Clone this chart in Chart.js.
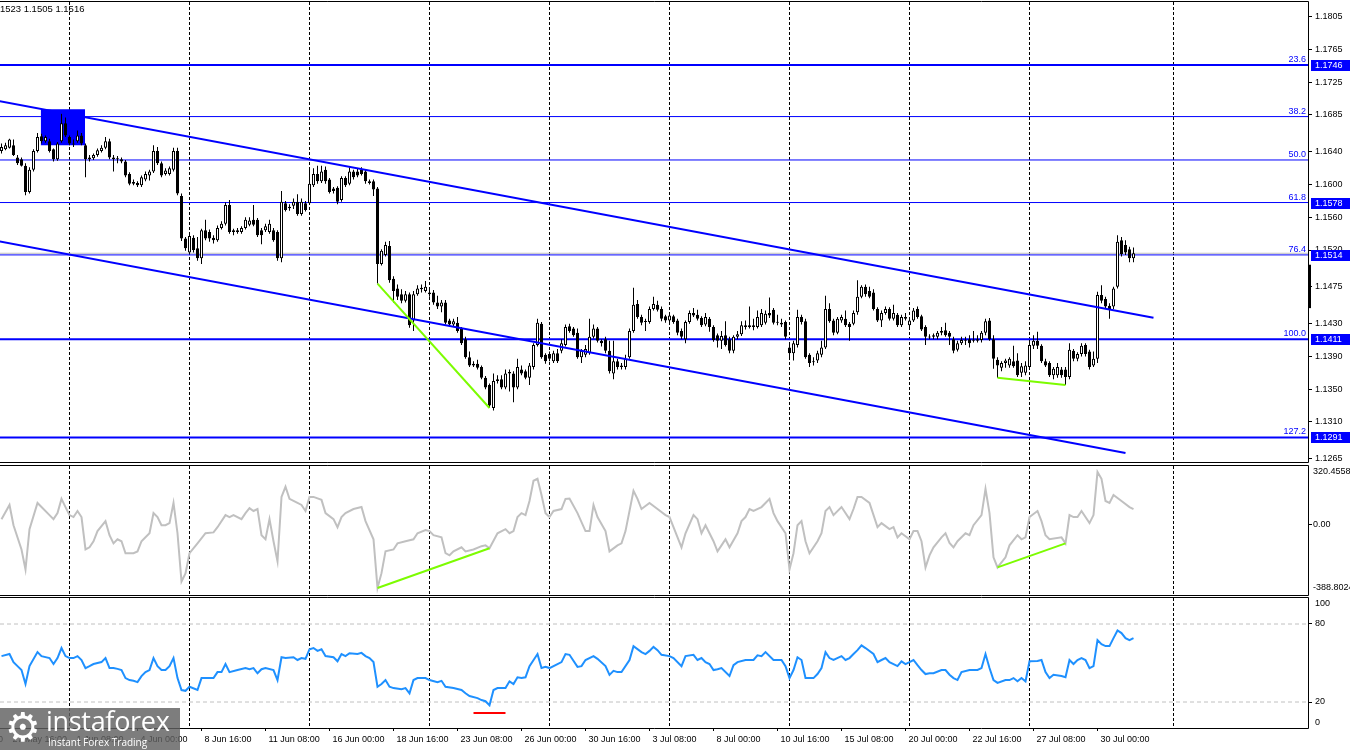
<!DOCTYPE html>
<html>
<head>
<meta charset="utf-8">
<script src="https://cdn.jsdelivr.net/npm/chart.js@4.4.1/dist/chart.umd.min.js"></script>
<style>
html,body{margin:0;padding:0;background:#fff;}
body{width:1350px;height:750px;position:relative;overflow:hidden;font-family:"Liberation Sans",Arial,sans-serif;}
canvas{position:absolute;left:0;}
#hdr{position:absolute;top:3px;left:-8px;font-size:9.5px;line-height:11px;white-space:nowrap;color:#000;}
#logo{position:absolute;left:0;top:708px;width:180px;height:42px;background:rgba(96,96,96,0.82);color:#fff;overflow:hidden;}
#logo .gear{position:absolute;left:5px;top:-3px;font-family:"DejaVu Sans";font-size:40px;line-height:44px;}
#logo .brand{position:absolute;left:46px;top:-3px;font-family:"Open Sans";font-size:27px;line-height:32px;letter-spacing:-0.3px;}
#logo .tag{position:absolute;left:48px;top:28px;font-family:"Open Sans";font-size:10px;line-height:12px;}
</style>
</head>
<body>
<canvas id="cMain" width="1350" height="464" style="top:0"></canvas>
<canvas id="cCci" width="1350" height="132" style="top:464px"></canvas>
<canvas id="cRsi" width="1350" height="154" style="top:596px"></canvas>
<div id="hdr">1.1523 1.1505 1.1516</div>
<div id="logo"><span class="gear">⚙</span><span class="brand">instaforex</span><span class="tag">Instant Forex Trading</span></div>
<script>
// ---------------- DATA ----------------
// H4 candles, bar index = position in the arrays
const opens = [
1.1641,1.1643,1.1645,1.1648,1.1633,1.1631,1.1623,1.1591,1.1618,1.1641,
1.1659,1.1653,1.1653,1.1643,1.1631,1.1653,1.1675,1.1658,1.1650,1.1653,
1.1660,1.1648,1.1631,1.1632,1.1636,1.1641,1.1645,1.1653,1.1633,1.1631,
1.1631,1.1628,1.1613,1.1603,1.1602,1.1599,1.1606,1.1611,1.1616,1.1641,
1.1626,1.1613,1.1613,1.1618,1.1641,1.1586,1.1534,1.1517,1.1535,1.1522,
1.1510,1.1544,1.1542,1.1535,1.1532,1.1547,1.1552,1.1575,1.1544,1.1542,
1.1542,1.1547,1.1551,1.1557,1.1557,1.1544,1.1544,1.1542,1.1544,1.1542,
1.1510,1.1577,1.1573,1.1574,1.1579,1.1564,1.1577,1.1577,1.1599,1.1613,
1.1604,1.1618,1.1606,1.1595,1.1596,1.1581,1.1608,1.1601,1.1616,1.1616,
1.1618,1.1616,1.1604,1.1604,1.1595,1.1503,1.1514,1.1525,1.1485,1.1473,
1.1466,1.1458,1.1466,1.1434,1.1466,1.1472,1.1470,1.1468,1.1468,1.1456,
1.1451,1.1456,1.1434,1.1429,1.1431,1.1424,1.1411,1.1389,1.1381,1.1381,
1.1377,1.1364,1.1355,1.1327,1.1360,1.1362,1.1352,1.1369,1.1369,1.1352,
1.1374,1.1372,1.1364,1.1377,1.1404,1.1430,1.1392,1.1393,1.1384,1.1394,
1.1397,1.1404,1.1427,1.1424,1.1419,1.1389,1.1392,1.1394,1.1414,1.1424,
1.1409,1.1411,1.1397,1.1369,1.1384,1.1377,1.1377,1.1389,1.1421,1.1454,
1.1438,1.1432,1.1432,1.1448,1.1453,1.1448,1.1439,1.1434,1.1439,1.1434,
1.1421,1.1411,1.1432,1.1443,1.1441,1.1437,1.1429,1.1436,1.1426,1.1416,
1.1409,1.1416,1.1411,1.1397,1.1414,1.1417,1.1426,1.1428,1.1426,1.1426,
1.1428,1.1431,1.1443,1.1447,1.1432,1.1431,1.1432,1.1401,1.1394,1.1404,
1.1438,1.1433,1.1392,1.1384,1.1385,1.1392,1.1401,1.1448,1.1434,1.1419,
1.1434,1.1436,1.1430,1.1430,1.1444,1.1463,1.1475,1.1470,1.1468,1.1448,
1.1434,1.1443,1.1448,1.1436,1.1441,1.1428,1.1438,1.1428,1.1434,1.1448,
1.1439,1.1426,1.1414,1.1414,1.1414,1.1419,1.1422,1.1419,1.1411,1.1398,
1.1406,1.1410,1.1411,1.1409,1.1409,1.1410,1.1419,1.1434,1.1411,1.1386,
1.1376,1.1382,1.1379,1.1384,1.1385,1.1370,1.1370,1.1377,1.1403,1.1409,
1.1403,1.1384,1.1382,1.1367,1.1367,1.1374,1.1374,1.1365,1.1397,1.1387,
1.1393,1.1404,1.1396,1.1379,1.1387,1.1465,1.1460,1.1452,1.1451,1.1475,
1.1532,1.1526,1.1521,1.1510];
const highs = [
1.1650,1.1651,1.1656,1.1655,1.1636,1.1633,1.1626,1.1621,1.1643,1.1663,
1.1662,1.1660,1.1656,1.1644,1.1652,1.1687,1.1682,1.1660,1.1655,1.1666,
1.1663,1.1650,1.1636,1.1638,1.1644,1.1648,1.1658,1.1656,1.1636,1.1635,
1.1633,1.1630,1.1615,1.1606,1.1604,1.1611,1.1616,1.1618,1.1648,1.1646,
1.1628,1.1620,1.1622,1.1645,1.1645,1.1589,1.1536,1.1539,1.1538,1.1536,
1.1546,1.1557,1.1545,1.1538,1.1550,1.1555,1.1578,1.1581,1.1546,1.1547,
1.1549,1.1560,1.1560,1.1575,1.1559,1.1547,1.1552,1.1557,1.1547,1.1544,
1.1592,1.1580,1.1576,1.1583,1.1588,1.1583,1.1580,1.1618,1.1620,1.1623,
1.1623,1.1622,1.1608,1.1597,1.1598,1.1610,1.1610,1.1621,1.1618,1.1620,
1.1621,1.1618,1.1606,1.1606,1.1597,1.1521,1.1530,1.1531,1.1488,1.1478,
1.1472,1.1470,1.1468,1.1470,1.1477,1.1478,1.1482,1.1473,1.1471,1.1464,
1.1459,1.1459,1.1436,1.1436,1.1438,1.1426,1.1414,1.1396,1.1384,1.1386,
1.1379,1.1366,1.1357,1.1369,1.1367,1.1367,1.1374,1.1374,1.1372,1.1387,
1.1379,1.1374,1.1382,1.1406,1.1436,1.1432,1.1394,1.1396,1.1397,1.1399,
1.1411,1.1429,1.1430,1.1426,1.1424,1.1399,1.1404,1.1436,1.1429,1.1426,
1.1411,1.1414,1.1409,1.1409,1.1387,1.1382,1.1392,1.1424,1.1474,1.1459,
1.1441,1.1436,1.1451,1.1463,1.1458,1.1451,1.1441,1.1443,1.1441,1.1436,
1.1424,1.1434,1.1446,1.1449,1.1447,1.1439,1.1443,1.1438,1.1428,1.1418,
1.1421,1.1433,1.1414,1.1416,1.1421,1.1433,1.1434,1.1451,1.1436,1.1446,
1.1448,1.1446,1.1462,1.1449,1.1441,1.1436,1.1434,1.1404,1.1409,1.1447,
1.1441,1.1436,1.1394,1.1389,1.1397,1.1409,1.1464,1.1455,1.1436,1.1438,
1.1441,1.1446,1.1432,1.1446,1.1483,1.1477,1.1478,1.1475,1.1472,1.1450,
1.1446,1.1451,1.1450,1.1453,1.1443,1.1441,1.1443,1.1436,1.1449,1.1451,
1.1441,1.1428,1.1417,1.1418,1.1421,1.1426,1.1431,1.1421,1.1414,1.1409,
1.1414,1.1414,1.1416,1.1421,1.1416,1.1421,1.1436,1.1437,1.1416,1.1389,
1.1384,1.1387,1.1389,1.1403,1.1394,1.1382,1.1384,1.1410,1.1416,1.1420,
1.1405,1.1387,1.1384,1.1377,1.1382,1.1377,1.1377,1.1406,1.1399,1.1395,
1.1406,1.1406,1.1398,1.1396,1.1469,1.1477,1.1463,1.1455,1.1475,1.1538,
1.1536,1.1532,1.1524,1.1523];
const lows = [
1.1638,1.1642,1.1644,1.1635,1.1624,1.1622,1.1587,1.1589,1.1616,1.1639,
1.1650,1.1651,1.1639,1.1628,1.1629,1.1651,1.1658,1.1648,1.1646,1.1651,
1.1648,1.1609,1.1628,1.1630,1.1634,1.1639,1.1643,1.1631,1.1616,1.1626,
1.1626,1.1609,1.1599,1.1599,1.1597,1.1597,1.1604,1.1605,1.1614,1.1624,
1.1609,1.1611,1.1611,1.1616,1.1587,1.1531,1.1519,1.1515,1.1517,1.1507,
1.1503,1.1532,1.1530,1.1528,1.1530,1.1545,1.1550,1.1540,1.1538,1.1540,
1.1540,1.1545,1.1549,1.1549,1.1536,1.1527,1.1542,1.1540,1.1530,1.1507,
1.1505,1.1567,1.1568,1.1570,1.1562,1.1562,1.1567,1.1575,1.1597,1.1601,
1.1602,1.1601,1.1589,1.1589,1.1576,1.1579,1.1597,1.1599,1.1606,1.1609,
1.1611,1.1601,1.1600,1.1586,1.1479,1.1501,1.1512,1.1480,1.1456,1.1459,
1.1455,1.1456,1.1425,1.1421,1.1464,1.1468,1.1468,1.1463,1.1453,1.1448,
1.1444,1.1429,1.1426,1.1426,1.1419,1.1404,1.1387,1.1377,1.1377,1.1374,
1.1362,1.1350,1.1327,1.1324,1.1357,1.1350,1.1350,1.1347,1.1334,1.1350,
1.1367,1.1362,1.1355,1.1374,1.1402,1.1387,1.1381,1.1384,1.1382,1.1382,
1.1394,1.1402,1.1419,1.1414,1.1387,1.1382,1.1389,1.1392,1.1412,1.1407,
1.1402,1.1394,1.1369,1.1362,1.1374,1.1374,1.1374,1.1387,1.1419,1.1436,
1.1428,1.1421,1.1430,1.1446,1.1445,1.1433,1.1431,1.1431,1.1430,1.1416,
1.1411,1.1406,1.1430,1.1438,1.1434,1.1426,1.1427,1.1420,1.1408,1.1401,
1.1399,1.1402,1.1394,1.1394,1.1411,1.1415,1.1423,1.1424,1.1422,1.1424,
1.1426,1.1429,1.1437,1.1429,1.1428,1.1426,1.1411,1.1387,1.1385,1.1401,
1.1429,1.1387,1.1377,1.1379,1.1382,1.1389,1.1399,1.1431,1.1416,1.1417,
1.1431,1.1426,1.1409,1.1428,1.1441,1.1461,1.1463,1.1461,1.1446,1.1432,
1.1426,1.1441,1.1434,1.1434,1.1426,1.1426,1.1434,1.1426,1.1432,1.1436,
1.1421,1.1404,1.1411,1.1411,1.1411,1.1416,1.1414,1.1404,1.1394,1.1396,
1.1404,1.1404,1.1401,1.1407,1.1407,1.1407,1.1416,1.1409,1.1375,1.1364,
1.1372,1.1376,1.1376,1.1376,1.1365,1.1365,1.1367,1.1375,1.1399,1.1399,
1.1382,1.1377,1.1365,1.1362,1.1364,1.1364,1.1355,1.1362,1.1384,1.1384,
1.1390,1.1390,1.1374,1.1377,1.1382,1.1455,1.1448,1.1436,1.1448,1.1473,
1.1512,1.1514,1.1505,1.1505];
const closes = [
1.1646,1.1648,1.1655,1.1636,1.1626,1.1623,1.1591,1.1618,1.1641,1.1658,
1.1653,1.1658,1.1641,1.1631,1.1650,1.1675,1.1660,1.1650,1.1649,1.1660,
1.1650,1.1631,1.1633,1.1636,1.1642,1.1645,1.1653,1.1633,1.1631,1.1632,
1.1628,1.1611,1.1601,1.1601,1.1599,1.1609,1.1613,1.1616,1.1641,1.1626,
1.1611,1.1617,1.1620,1.1641,1.1589,1.1534,1.1522,1.1537,1.1520,1.1510,
1.1544,1.1534,1.1534,1.1532,1.1547,1.1552,1.1575,1.1542,1.1542,1.1544,
1.1547,1.1557,1.1556,1.1551,1.1538,1.1538,1.1549,1.1552,1.1532,1.1510,
1.1579,1.1569,1.1571,1.1579,1.1564,1.1579,1.1569,1.1601,1.1613,1.1604,
1.1616,1.1604,1.1591,1.1592,1.1579,1.1608,1.1599,1.1616,1.1609,1.1611,
1.1613,1.1604,1.1602,1.1594,1.1503,1.1519,1.1526,1.1483,1.1470,1.1463,
1.1458,1.1466,1.1428,1.1466,1.1473,1.1474,1.1475,1.1466,1.1456,1.1451,
1.1456,1.1431,1.1429,1.1433,1.1421,1.1406,1.1389,1.1379,1.1379,1.1376,
1.1364,1.1352,1.1330,1.1360,1.1362,1.1352,1.1369,1.1371,1.1352,1.1377,
1.1369,1.1364,1.1379,1.1404,1.1431,1.1389,1.1384,1.1387,1.1394,1.1384,
1.1406,1.1426,1.1421,1.1416,1.1389,1.1397,1.1399,1.1414,1.1424,1.1409,
1.1406,1.1397,1.1372,1.1384,1.1377,1.1379,1.1387,1.1421,1.1453,1.1438,
1.1431,1.1433,1.1448,1.1454,1.1447,1.1436,1.1434,1.1440,1.1432,1.1419,
1.1414,1.1432,1.1443,1.1440,1.1436,1.1428,1.1438,1.1426,1.1410,1.1409,
1.1415,1.1404,1.1397,1.1414,1.1417,1.1428,1.1428,1.1426,1.1428,1.1438,
1.1443,1.1442,1.1440,1.1431,1.1431,1.1429,1.1414,1.1394,1.1406,1.1438,
1.1432,1.1389,1.1382,1.1383,1.1394,1.1401,1.1448,1.1433,1.1419,1.1436,
1.1438,1.1428,1.1426,1.1443,1.1463,1.1475,1.1466,1.1463,1.1448,1.1434,
1.1443,1.1448,1.1436,1.1443,1.1428,1.1438,1.1436,1.1434,1.1446,1.1438,
1.1423,1.1414,1.1413,1.1416,1.1419,1.1421,1.1416,1.1414,1.1397,1.1406,
1.1410,1.1409,1.1406,1.1410,1.1411,1.1419,1.1433,1.1411,1.1387,1.1379,
1.1382,1.1385,1.1387,1.1378,1.1367,1.1378,1.1379,1.1404,1.1409,1.1403,
1.1384,1.1379,1.1367,1.1375,1.1377,1.1367,1.1365,1.1398,1.1387,1.1393,
1.1403,1.1393,1.1377,1.1387,1.1465,1.1458,1.1451,1.1447,1.1473,1.1530,
1.1515,1.1517,1.1510,1.1516];

// CCI readings (bar index, value)
const cciBars = [
0,2,3,5,6,7,9,10,12,13, 14,15,16,17,18,19,20,21,22,23,
24,26,27,28,29,30,31,33,34,35, 36,37,38,39,40,41,42,43,44,45,
46,47,49,51,53,54,56,57,58,60, 61,62,63,64,65,66,67,68,69,70,
71,72,74,75,76,77,78,80,81,83, 84,85,86,88,90,91,93,94,95,96,
98,99,101,103,104,106,107,108,110,111, 112,113,115,116,118,120,121,122,124,126,
127,128,129,130,131,132,133,134,135,136, 137,138,140,141,142,144,146,147,148,149,
151,152,154,155,156,158,159,160,162,164, 166,167,168,170,171,173,174,175,176,178,
179,180,181,182,184,185,186,187,188,190, 191,192,193,194,196,197,198,199,200,201,
202,204,205,206,207,208,210,212,213,214, 215,217,219,220,222,223,224,225,227,228,
229,230,231,232,233,235,236,237,238,239, 241,242,243,245,246,247,248,249,251,252,
254,255,256,257,259,260,261,262,265,266, 267,268,269,270,272,273,274,275,276,277,
278,280,282,283];
const cciValues = [
32,119,-5,-153,-275,-29,131,106,57,32, 69,156,106,57,45,82,45,-153,-140,-103,
-41,20,-66,-116,-91,-103,-176,-176,-165,-103, -79,-54,69,45,-5,-5,8,131,-54,-349,
-300,-176,-116,-54,-49,-17,57,45,57,32, 69,99,82,94,-66,-91,32,-103,-226,168,
230,156,131,119,82,168,168,150,69,32, -17,45,69,94,106,20,-91,-388.8024,-298,-165,
-153,-116,-103,-91,-54,-34,-41,-66,-79,-176, -189,-165,-140,-165,-153,-133,-128,-146,-54,-29,
-54,-41,45,69,57,143,267,279,180,69, 45,82,94,156,158,69,-41,-41,119,45,
-41,-165,-128,-116,-41,205,156,94,131,94, 57,45,-17,-140,-54,57,32,-54,-5,-103,
-165,-128,-91,-140,-54,20,45,94,82,106, 131,156,69,20,-54,-275,-176,-5,20,-103,
-176,-103,-54,82,106,57,106,32,94,168, 168,131,-17,8,-29,-17,-79,-54,-91,-41,
-41,-103,-263,-189,-140,-79,-54,-113,-140,-103, -54,-66,-5,57,217,69,-201,-263,-201,-128,
-66,-91,-79,45,82,20,-66,-91,-79,-116, 57,45,45,82,8,57,320.4558,279,143,131,
180,143,106,94];
const cciWindowMax = 320.4558;
const cciWindowMin = -388.8024;

// RSI readings (bar index, value)
const rsiBars = [
0,2,3,4,5,6,7,9,10,12, 13,14,15,16,17,18,19,20,21,22,
23,25,26,27,28,29,30,31,32,33, 34,35,36,37,38,39,40,41,42,43,
44,45,46,47,49,50,53,54,55,56, 57,59,61,62,63,64,65,66,68,69,
70,71,73,74,75,76,77,78,79,80, 81,83,84,85,86,87,89,90,91,92,
93,94,95,96,97,98,100,101,102,103, 104,106,107,109,110,111,113,115,116,117,
119,120,121,122,123,124,126,127,128,129, 130,131,132,134,135,136,137,139,140,141,
142,144,145,146,148,149,151,152,153,154, 155,157,158,160,161,162,163,164,165,167,
168,170,171,173,174,175,176,177,178,179, 180,182,183,184,186,187,188,189,190,191,
193,195,196,197,198,199,200,201,203,204, 205,206,207,208,210,211,212,213,214,215,
216,218,219,220,221,222,224,225,226,227, 228,229,230,231,232,233,235,236,237,238,
239,240,242,244,245,246,247,248,249,251, 252,253,254,255,256,257,259,260,261,262,
263,265,266,267,268,269,270,271,272,273, 274,275,276,277,278,279,280,281,282,283];
const rsiValues = [
55.3,56.9,50.7,47.6,44.6,33.8,47.6,58.4,55.3,53.8, 49.2,53.8,61.5,55.3,53.8,53.8,55.3,52.3,46.1,47.6,
49.2,50.7,53.8,46.1,46.1,45.5,44.6,38.4,36.9,36.3, 35.3,39.9,43.0,44.6,53.8,47.6,44.6,44.6,47.6,53.8,
38.4,29.2,28.6,31.7,29.2,38.4,38.4,43.0,43.0,49.2, 43.0,44.6,46.1,45.2,46.1,42.1,45.2,46.1,44.6,36.9,
54.4,53.8,54.4,52.3,53.8,53.2,60.6,61.5,59.3,60.6, 55.3,54.4,51.3,56.9,55.3,57.5,56.9,57.8,55.3,53.8,
50.7,31.7,33.8,36.9,31.7,30.7,29.8,30.7,26.7,36.9, 38.4,38.4,36.9,35.3,36.3,31.7,30.7,29.2,26.7,24.6,
23.0,21.5,20.6,17.5,29.2,30.7,30.7,35.9,33.8,39.0, 38.4,39.0,47.6,56.9,46.1,47.0,46.1,49.2,50.7,56.9,
56.3,47.0,47.6,52.3,55.3,53.2,47.6,40.9,44.0,43.0, 43.0,52.3,63.0,58.4,56.9,59.3,62.4,59.9,56.3,55.3,
53.8,47.6,55.3,56.3,52.3,53.8,50.7,49.2,44.6,45.2, 46.1,40.0,48.3,50.7,52.3,52.3,52.3,55.9,55.3,58.4,
52.3,52.3,47.6,38.4,44.6,54.4,52.3,38.4,38.4,41.5, 46.1,58.4,53.8,52.3,55.3,52.3,53.8,56.9,59.9,63.6,
61.5,56.9,50.7,52.3,53.8,50.7,47.6,51.3,49.2,50.7, 52.3,48.3,44.6,41.5,42.1,42.1,44.6,44.6,41.0,38.4,
36.9,43.0,44.6,44.6,46.1,56.9,46.1,36.9,34.7,36.9, 36.9,38.4,35.9,38.4,35.9,51.3,51.5,52.3,43.0,38.4,
40.9,40.0,39.0,52.3,49.2,52.3,53.8,52.3,46.1,47.6, 67.6,64.5,63.0,63.0,69.1,75.0,73.0,69.1,67.6,69.1];
const rsiLevels = [20, 80];

// Fibonacci levels
const fibLevels = ['23.6','38.2','50.0','61.8','76.4','100.0','127.2'];
const fibPrices = [1.1746, 1.1683, 1.1630, 1.1578, 1.1514, 1.1411, 1.1291];
const fibPriceBoxes = [1.1746, 1.1578, 1.1514, 1.1411, 1.1291];

// Descending channel (bar index, price)
const channelUpperBars = [-1, 288];
const channelUpperPrices = [1.17024, 1.14373];
const channelLowerBars = [-1, 281];
const channelLowerPrices = [1.15310, 1.12720];

// Blue zone (bar range and price range)
const zoneBars = [9.8, 20.9];
const zonePrices = [1.1692, 1.1648];

// Divergence lines
const divPriceBarsA = [94, 122];  const divPriceA = [1.1479, 1.1327];
const divPriceBarsB = [249, 266]; const divPriceB = [1.1364, 1.1355];
const divCciBarsA = [94, 122];    const divCciA = [-388.8024, -146];
const divCciBarsB = [249, 266];   const divCciB = [-263, -116];
const rsiMarkBars = [118, 126];   const rsiMark = [11.5, 11.5];

// Axis ticks
const priceTicks = [1.1805,1.1765,1.1725,1.1685,1.1640,1.1600,1.1560,1.1520,1.1475,1.1430,1.1390,1.1350,1.1310,1.1265];
const axisMarkPrices = [1.1502, 1.1449];
const timeLabels = ['25 May 00:00','27 May 16:00','1 Jun 08:00','4 Jun 00:00','8 Jun 16:00','11 Jun 08:00','16 Jun 00:00','18 Jun 16:00','23 Jun 08:00','26 Jun 00:00','30 Jun 16:00','3 Jul 08:00','8 Jul 00:00','10 Jul 16:00','15 Jul 08:00','20 Jul 00:00','22 Jul 16:00','27 Jul 08:00','30 Jul 00:00'];
const timeLabelBars = [-14,2,18,34,50,66,82,98,114,130,146,162,178,194,210,226,242,258,274];
const gridBars = [17,47,77,107,137,167,197,227,257,293];

// ---------------- VIEW ----------------
const X_MIN = -0.375, X_MAX = 326.625;
const PRICE_MAX = 1.18230, PRICE_MIN = 1.12610;
const CCI_AXIS_MAX = 357.1, CCI_AXIS_MIN = -431.6;
const FONT_FAMILY = '"Liberation Sans", Arial, sans-serif';
const TICK_FONT = {family: FONT_FAMILY, size: 9};
const BLUE = '#0000ff';
const thickFib = new Set(['23.6','100.0','127.2']);

const pts = (xs, ys) => xs.map((x, k) => ({x, y: ys[k]}));

function gridXScale() {
  return {
    type: 'linear', min: X_MIN, max: X_MAX, offset: false, position: 'bottom',
    afterBuildTicks: s => { s.ticks = gridBars.map(v => ({value: v})); },
    afterFit: s => { s.height = 0; s.paddingLeft = 0; s.paddingRight = 0; },
    ticks: {display: false, autoSkip: false},
    grid: {display: true, drawOnChartArea: true, drawTicks: false, color: '#000', lineWidth: 1, offset: false},
    border: {display: false, dash: [3, 2]}
  };
}
function yScale(min, max, tickVals, fmt, tickColor, pad) {
  return {
    type: 'linear', position: 'right', min, max,
    afterBuildTicks: s => { s.ticks = tickVals.map(v => ({value: v})); },
    afterFit: s => { s.width = 42; s.paddingTop = 0; s.paddingBottom = 0; },
    ticks: {autoSkip: false, color: '#000', font: TICK_FONT, padding: pad === undefined ? 3 : pad, callback: fmt},
    grid: {drawOnChartArea: false, drawTicks: true, tickLength: 4, color: tickColor || '#000'},
    border: {display: false}
  };
}
const framePlugin = {
  id: 'frame',
  afterDraw(chart) {
    const {ctx, chartArea: a} = chart;
    ctx.save();
    ctx.strokeStyle = '#000'; ctx.lineWidth = 1;
    ctx.beginPath();
    ctx.moveTo(0, a.top - 0.5); ctx.lineTo(a.right + 0.5, a.top - 0.5);
    ctx.lineTo(a.right + 0.5, a.bottom + 0.5); ctx.lineTo(0, a.bottom + 0.5);
    ctx.stroke();
    ctx.restore();
  }
};
const baseOpts = {
  responsive: false, animation: false, events: [],
  plugins: {legend: {display: false}, tooltip: {enabled: false}}
};

// ---------------- MAIN (price) ----------------
const bodyData = closes.map((c, i) => ({x: i, y: [Math.min(opens[i], c), Math.max(opens[i], c)]}));
const wickData = closes.map((c, i) => ({x: i, y: [lows[i], highs[i]]}));
const bodyColors = closes.map((c, i) => c >= opens[i] ? '#ffffff' : '#000000');
const lastClose = closes[closes.length - 1];

const lineDs = (data, color, width, order, extra) => Object.assign({
  type: 'line', data, borderColor: color, borderWidth: width, pointRadius: 0, tension: 0, fill: false, order
}, extra || {});

const mainDatasets = [
  lineDs(pts(divPriceBarsA, divPriceA), '#7cfc00', 2, 1),
  lineDs(pts(divPriceBarsB, divPriceB), '#7cfc00', 2, 1),
  lineDs(pts(channelUpperBars, channelUpperPrices), BLUE, 2, 2),
  lineDs(pts(channelLowerBars, channelLowerPrices), BLUE, 2, 2),
  {type: 'bar', data: bodyData, backgroundColor: bodyColors, borderColor: '#000', borderWidth: 1,
   borderSkipped: false, barThickness: 3, maxBarThickness: 3, grouped: false, minBarLength: 1, inflateAmount: 0, order: 3},
  {type: 'bar', data: wickData, backgroundColor: '#000', borderWidth: 0,
   barThickness: 1, maxBarThickness: 1, grouped: false, minBarLength: 1, inflateAmount: 0, order: 4}
];
fibPrices.forEach((p, k) => {
  mainDatasets.push(lineDs([{x: X_MIN, y: p}, {x: X_MAX, y: p}], BLUE, thickFib.has(fibLevels[k]) ? 2 : 1, 6));
});
mainDatasets.push(lineDs([{x: X_MIN, y: lastClose}, {x: X_MAX, y: lastClose}], '#c0c0c0', 1, 7));
mainDatasets.push(lineDs(zoneBars.map(b => ({x: b, y: zonePrices[0]})), 'rgba(0,0,0,0)', 0, 10,
  {fill: {value: zonePrices[1]}, backgroundColor: BLUE}));

const mainAnnot = {
  id: 'mainAnnot',
  afterDraw(chart) {
    const {ctx, chartArea: a} = chart;
    const ys = chart.scales.y;
    ctx.save();
    ctx.font = '9px ' + FONT_FAMILY;
    // fib level captions
    ctx.fillStyle = BLUE; ctx.textAlign = 'right'; ctx.textBaseline = 'alphabetic';
    fibPrices.forEach((p, k) => {
      ctx.fillText(fibLevels[k], a.right - 2, ys.getPixelForValue(p) - 3);
    });
    // black marker on the price scale
    const m1 = ys.getPixelForValue(axisMarkPrices[0]), m2 = ys.getPixelForValue(axisMarkPrices[1]);
    ctx.fillStyle = '#000';
    ctx.fillRect(a.right, m1, 3, m2 - m1);
    // price boxes
    ctx.textAlign = 'left'; ctx.textBaseline = 'middle';
    fibPriceBoxes.forEach(p => {
      const py = Math.round(ys.getPixelForValue(p));
      ctx.fillStyle = BLUE;
      ctx.fillRect(a.right + 3, py - 5, 1350 - a.right - 3, 11);
      ctx.fillStyle = '#fff';
      ctx.fillText(p.toFixed(4), a.right + 7, py + 0.5);
    });
    ctx.restore();
  }
};

new Chart(document.getElementById('cMain'), {
  type: 'bar',
  data: {datasets: mainDatasets},
  options: Object.assign({}, baseOpts, {
    layout: {padding: {top: 2, bottom: 2, left: 0, right: 0}},
    scales: {
      x: gridXScale(),
      y: yScale(PRICE_MIN, PRICE_MAX, priceTicks, v => v.toFixed(4))
    }
  }),
  plugins: [framePlugin, mainAnnot]
});

// ---------------- CCI ----------------
const cciTicks = [cciWindowMin, 0, cciWindowMax];
new Chart(document.getElementById('cCci'), {
  type: 'line',
  data: {datasets: [
    lineDs(pts(divCciBarsA, divCciA), '#7cfc00', 2, 1),
    lineDs(pts(divCciBarsB, divCciB), '#7cfc00', 2, 1),
    lineDs(pts(cciBars, cciValues), '#c0c0c0', 2, 2)
  ]},
  options: Object.assign({}, baseOpts, {
    layout: {padding: {top: 2, bottom: 1, left: 0, right: 0}},
    scales: {
      x: gridXScale(),
      y: yScale(CCI_AXIS_MIN, CCI_AXIS_MAX, cciTicks,
        (v, i) => i === 1 ? '0.00' : v.toFixed(4),
        ctx => (ctx.tick && ctx.tick.value === 0) ? '#000' : 'rgba(0,0,0,0)', 1)
    }
  }),
  plugins: [framePlugin]
});

// ---------------- RSI ----------------
const rsiTicks = [4.6, rsiLevels[0], rsiLevels[1], 95.4];
const rsiTickText = ['0', '20', '80', '100'];
new Chart(document.getElementById('cRsi'), {
  type: 'line',
  data: {datasets: [
    lineDs(pts(rsiMarkBars, rsiMark), '#ff0000', 2, 1),
    lineDs(pts(rsiBars, rsiValues), '#1e90ff', 2, 2),
    lineDs([{x: X_MIN, y: rsiLevels[0]}, {x: X_MAX, y: rsiLevels[0]}], '#c0c0c0', 1, 3, {borderDash: [4, 3]}),
    lineDs([{x: X_MIN, y: rsiLevels[1]}, {x: X_MAX, y: rsiLevels[1]}], '#c0c0c0', 1, 3, {borderDash: [4, 3]})
  ]},
  options: Object.assign({}, baseOpts, {
    layout: {padding: {top: 2, bottom: 0, left: 0, right: 0}},
    scales: {
      x: gridXScale(),
      xl: {
        type: 'linear', min: X_MIN, max: X_MAX, offset: false, position: 'bottom',
        afterBuildTicks: s => { s.ticks = timeLabelBars.map(v => ({value: v})); },
        afterFit: s => { s.height = 22; s.paddingLeft = 0; s.paddingRight = 0; },
        ticks: {display: true, autoSkip: false, maxRotation: 0, minRotation: 0, align: 'start',
                labelOffset: 3, padding: 3, color: '#000', font: TICK_FONT,
                callback: (v, i) => timeLabels[i]},
        grid: {display: true, drawOnChartArea: false, drawTicks: true, tickLength: 3, color: '#000', offset: false},
        border: {display: false}
      },
      y: yScale(0, 100, rsiTicks, (v, i) => rsiTickText[i],
        ctx => (ctx.tick && (ctx.tick.value === rsiLevels[0] || ctx.tick.value === rsiLevels[1])) ? '#000' : 'rgba(0,0,0,0)')
    }
  }),
  plugins: [framePlugin]
});
</script>
</body>
</html>
